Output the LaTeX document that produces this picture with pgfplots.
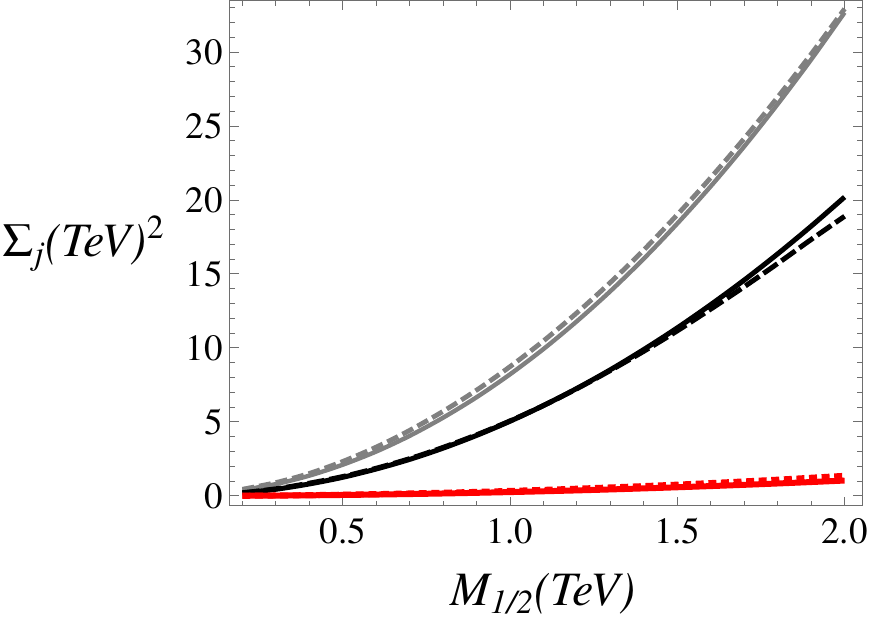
\documentclass[border=0pt]{standalone}
\usepackage{fontspec}
\setmainfont{texgyretermes}[Extension=.otf, UprightFont=*-regular,
  ItalicFont=*-italic, BoldFont=*-bold, BoldItalicFont=*-bolditalic]
\usepackage{pgfplots}
\pgfplotsset{compat=1.18}
\definecolor{mgray}{RGB}{128,128,128}
\definecolor{framegray}{RGB}{110,110,110}
\begin{document}
\begin{tikzpicture}
\begin{axis}[
  scale only axis, width=316pt, height=252.5pt,
  xmin=0.163, xmax=2.052, ymin=-0.68, ymax=33.45,
  xtick={0,0.5,...,2.5}, ytick={-5,0,...,35},
  minor x tick num=4, minor y tick num=4,
  major tick length=4.5pt, minor tick length=2.5pt,
  tick align=inside,
  axis line style={framegray, line width=0.5pt},
  every tick/.style={framegray, line width=0.5pt},
  every minor tick/.style={framegray, line width=0.5pt},
  /pgf/number format/assume math mode=true,
  ticklabel style={font=\fontsize{18.5}{22}\selectfont},
  xticklabel style={/pgf/number format/fixed, /pgf/number format/fixed zerofill,
    /pgf/number format/precision=1, inner sep=0pt, yshift=-6pt},
  yticklabel style={inner sep=0pt, xshift=-3.5pt},
  every axis y label/.style={at={(rel axis cs:0,0.52)}, anchor=east, inner sep=0pt,
    xshift=-32.5pt, font=\fontsize{24}{28}\selectfont},
  every axis x label/.style={at={(rel axis cs:0.495,0)}, anchor=base, inner sep=0pt,
    yshift=-50pt, font=\fontsize{24}{28}\selectfont},
  xlabel={\textit{M\textsubscript{1/2}(TeV)}},
  ylabel={Σ\textsubscript{\textit{j}}\textit{(TeV)}\textsuperscript{2}},
  clip=false,
]
\coordinate (sw) at (rel axis cs:0,0);
\coordinate (ne) at (rel axis cs:1,1);

% gray solid
\addplot[mgray, line width=2.2pt, smooth] coordinates {
 (0.2,0.40)(0.3,0.80)(0.4,1.37)(0.5,2.11)(0.6,3.00)(0.7,4.06)(0.8,5.29)(0.9,6.67)
 (1.0,8.22)(1.1,9.93)(1.2,11.81)(1.3,13.84)(1.4,16.04)(1.5,18.41)(1.6,20.93)
 (1.7,23.62)(1.8,26.48)(1.9,29.49)(2.0,32.67)};
% gray dashed
\addplot[mgray, line width=2.4pt, smooth, dash pattern=on 6pt off 2.5pt] coordinates {
 (0.2,0.45)(0.3,0.90)(0.4,1.52)(0.5,2.33)(0.6,3.30)(0.7,4.43)(0.8,5.72)(0.9,7.15)
 (1.0,8.74)(1.1,10.48)(1.2,12.38)(1.3,14.43)(1.4,16.63)(1.5,19.01)(1.6,21.51)
 (1.7,24.16)(1.8,26.95)(1.9,29.86)(2.0,32.92)};

% black solid
\addplot[black, line width=2.5pt, smooth] coordinates {
 (0.2,0.20)(0.3,0.45)(0.4,0.81)(0.5,1.26)(0.6,1.82)(0.7,2.47)(0.8,3.23)(0.9,4.09)
 (1.0,5.05)(1.1,6.11)(1.2,7.27)(1.3,8.53)(1.4,9.90)(1.5,11.36)(1.6,12.93)
 (1.7,14.59)(1.8,16.36)(1.9,18.23)(2.0,20.20)};
% black dashed
\addplot[black, line width=2.5pt, smooth, dash pattern=on 8.5pt off 2.5pt] coordinates {
 (0.2,0.21)(0.3,0.48)(0.4,0.86)(0.5,1.31)(0.6,1.87)(0.7,2.52)(0.8,3.28)(0.9,4.13)
 (1.0,5.07)(1.1,6.11)(1.2,7.25)(1.3,8.48)(1.4,9.78)(1.5,11.16)(1.6,12.63)
 (1.7,14.14)(1.8,15.71)(1.9,17.33)(2.0,18.90)};

% red solid
\addplot[red, line width=3pt, smooth] coordinates {
 (0.2,0.010)(0.3,0.023)(0.4,0.042)(0.5,0.065)(0.6,0.094)(0.7,0.127)(0.8,0.166)
 (0.9,0.211)(1.0,0.260)(1.1,0.315)(1.2,0.374)(1.3,0.439)(1.4,0.510)(1.5,0.585)
 (1.6,0.666)(1.7,0.751)(1.8,0.842)(1.9,0.939)(2.0,1.040)};
% red dotted
\addplot[red, line width=3pt, smooth, dash pattern=on 4pt off 2.3pt] coordinates {
 (0.2,0.014)(0.3,0.031)(0.4,0.054)(0.5,0.085)(0.6,0.122)(0.7,0.167)(0.8,0.218)
 (0.9,0.275)(1.0,0.340)(1.1,0.411)(1.2,0.490)(1.3,0.575)(1.4,0.666)(1.5,0.765)
 (1.6,0.870)(1.7,0.983)(1.8,1.100)(1.9,1.230)(2.0,1.360)};
\end{axis}
\path ([xshift=-115pt,yshift=-59.5pt]sw) rectangle ([xshift=5pt,yshift=0.5pt]ne);
\end{tikzpicture}
\end{document}
